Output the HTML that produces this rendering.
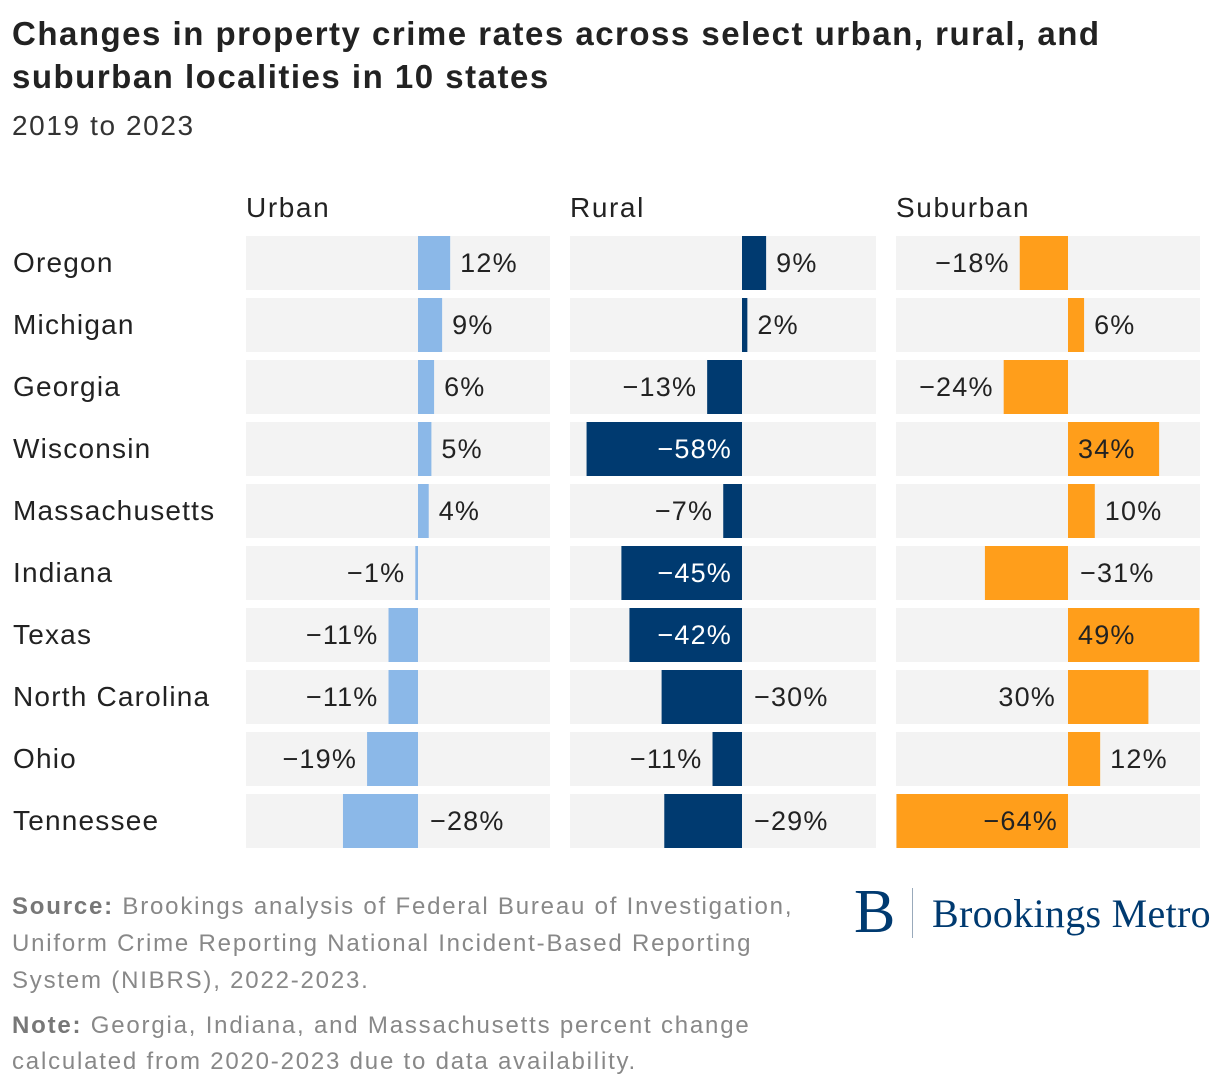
<!DOCTYPE html>
<html><head><meta charset="utf-8">
<style>
body{margin:0;width:1220px;height:1092px;background:#fff;font-family:"Liberation Sans",sans-serif;color:#222;position:relative;overflow:hidden}
.t{position:absolute;left:12px;top:12px;font-size:33px;font-weight:bold;line-height:43px;color:#222;letter-spacing:1.5px;white-space:nowrap}
.st{position:absolute;left:12px;top:110px;font-size:28px;color:#333;letter-spacing:1.6px}
.foot{position:absolute;left:12px;font-size:24px;color:#888;line-height:37px;letter-spacing:1.8px;white-space:nowrap}
.foot b{color:#777}
</style></head><body>
<div class="t">Changes in property crime rates across select urban, rural, and<br>suburban localities in 10 states</div>
<div class="st">2019 to 2023</div>
<svg id="c" width="1220" height="870" style="position:absolute;left:0;top:0"></svg>
<div class="foot" style="top:888px"><b>Source:</b> Brookings analysis of Federal Bureau of Investigation,<br>Uniform Crime Reporting National Incident-Based Reporting<br>System (NIBRS), 2022-2023.</div>
<div class="foot" style="top:1008px;line-height:36px"><b>Note:</b> Georgia, Indiana, and Massachusetts percent change<br>calculated from 2020-2023 due to data availability.</div>
<div style="position:absolute;left:854px;top:880px;height:64px;font-family:'Liberation Serif',serif;color:#003a70">
<span style="position:absolute;left:0;top:0;font-size:62px;line-height:64px">B</span>
<span style="position:absolute;left:58px;top:8px;width:1px;height:50px;background:#9ab"></span>
<span style="position:absolute;left:78px;top:10px;font-size:40px;white-space:nowrap;letter-spacing:0.3px">Brookings Metro</span>
</div>
<script>
const states=["Oregon","Michigan","Georgia","Wisconsin","Massachusetts","Indiana","Texas","North Carolina","Ohio","Tennessee"];
const urban=[12,9,6,5,4,-1,-11,-11,-19,-28];
const rural=[9,2,-13,-58,-7,-45,-42,-30,-11,-29];
const suburban=[-18,6,-24,34,10,-31,49,30,12,-64];
const urbanPos=["out","out","out","out","out","out","out","out","out","opp"];
const ruralPos=["out","out","out","in","out","in","in","opp","out","opp"];
const suburbanPos=["out","out","out","in","out","opp","in","opp","out","in"];
const panels=[
 {name:"Urban",vals:urban,pos:urbanPos,x0:246,x1:550,zero:418,color:"#8bb8e8",inText:"#222"},
 {name:"Rural",vals:rural,pos:ruralPos,x0:570,x1:876,zero:742,color:"#003a70",inText:"#fff"},
 {name:"Suburban",vals:suburban,pos:suburbanPos,x0:896,x1:1200,zero:1068,color:"#ff9e1b",inText:"#222"}
];
const k=2.68,top0=236,pitch=62,rh=54;
const svg=document.getElementById('c'),NS="http://www.w3.org/2000/svg";
function mk(t,a,txt){const e=document.createElementNS(NS,t);for(const q in a)e.setAttribute(q,a[q]);if(txt!=null)e.textContent=txt;svg.appendChild(e);return e;}
states.forEach((s,i)=>{
 const e=mk('text',{x:13,y:top0+i*pitch+rh/2+9,'font-size':28,fill:'#222','letter-spacing':'1.2'},s);
 
 
});
panels.forEach(p=>{
 const h=mk('text',{x:p.x0,y:217,'font-size':28,fill:'#222','letter-spacing':'1.6'},p.name);
 
 
 p.vals.forEach((v,i)=>{
  const y=top0+i*pitch;
  const bg=mk('rect',{x:p.x0,y:y,width:p.x1-p.x0,height:rh,fill:'#f3f3f3'});
  
  
  const w=Math.abs(v)*k,bx=v>=0?p.zero:p.zero-w;
  const b=mk('rect',{x:bx,y:y,width:Math.max(w,1.5),height:rh,fill:p.color});
  
  
  const lab=(v<0?"\u2212"+(-v):v)+"%";
  let x,anchor,fill="#222";const pos=p.pos[i];
  const end=v>=0?p.zero+w:p.zero-w;
  if(pos==="out"){x=v>=0?end+10:end-10;anchor=v>=0?"start":"end";}
  else if(pos==="opp"){x=v>=0?p.zero-12:p.zero+12;anchor=v>=0?"end":"start";}
  else{x=v>=0?p.zero+10:p.zero-10;anchor=v>=0?"start":"end";fill=p.inText;}
  const t=mk('text',{x:x,y:y+rh/2+9,'font-size':27,fill:fill,'text-anchor':anchor,'letter-spacing':'1.2'},lab);
  
  
 });
});
</script>
</body></html>
